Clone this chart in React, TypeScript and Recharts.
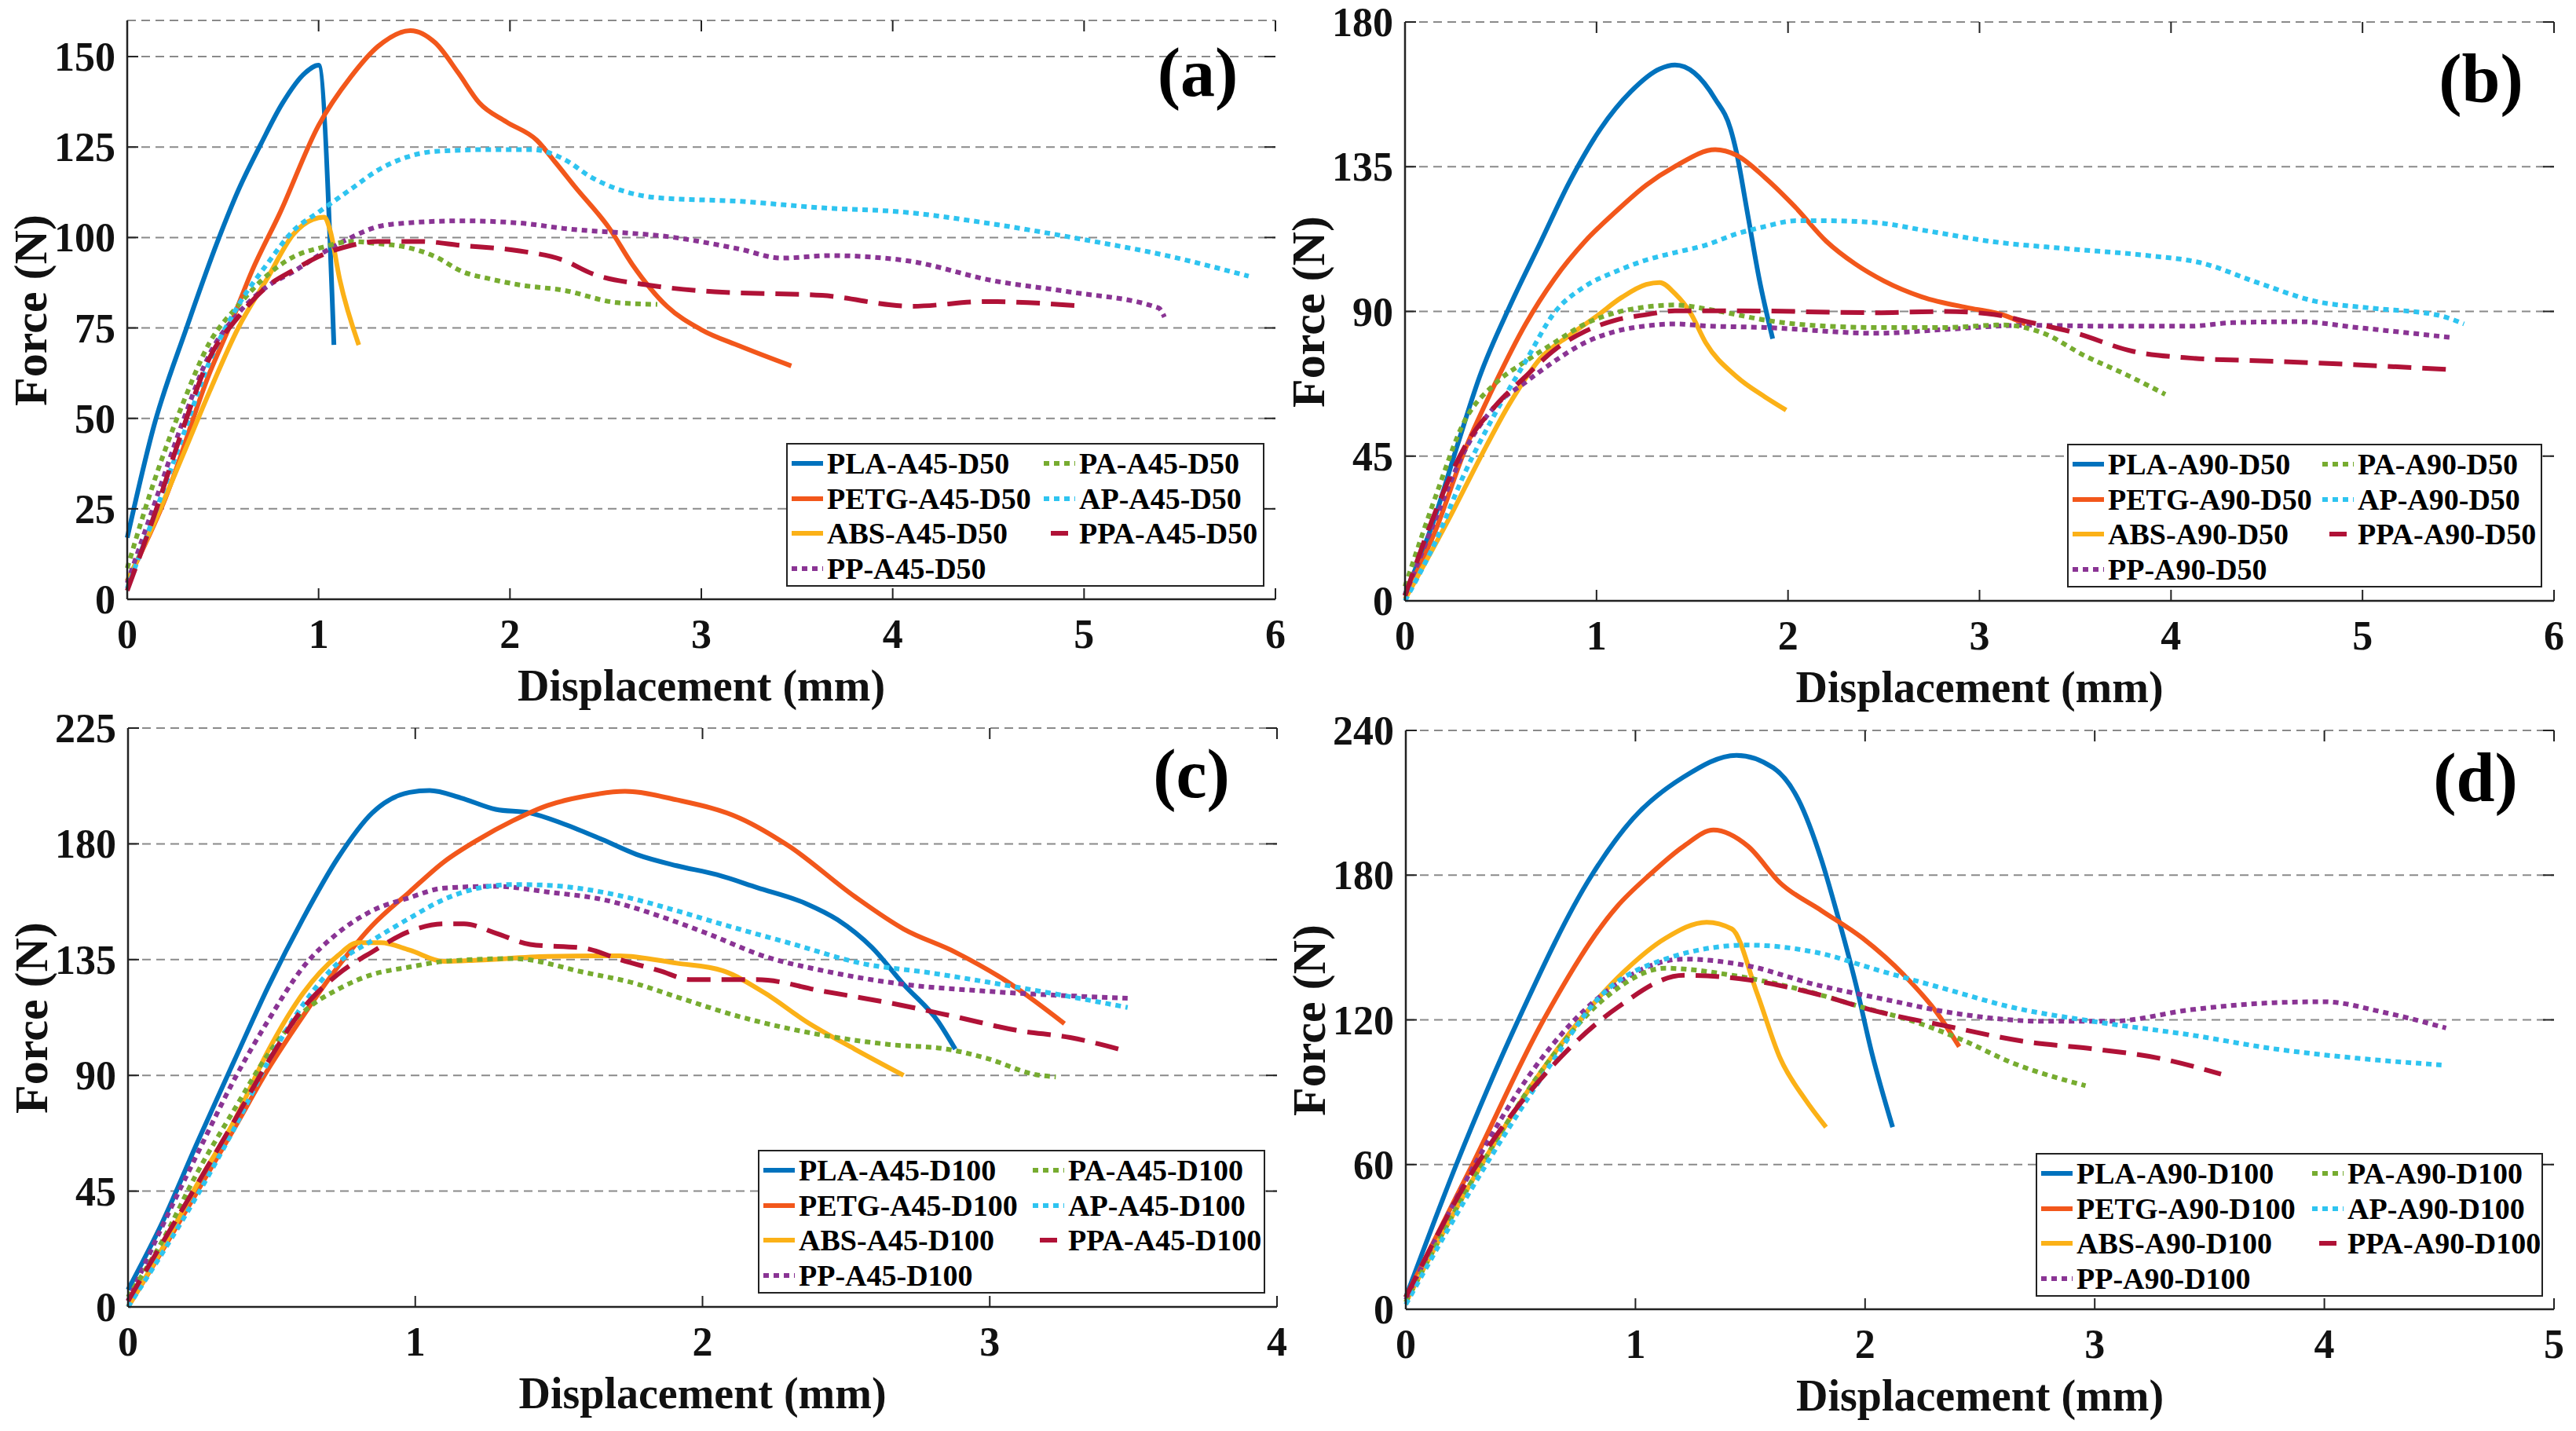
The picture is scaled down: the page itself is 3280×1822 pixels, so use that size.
import React from 'react';
import { LineChart, Line, XAxis, YAxis, CartesianGrid } from 'recharts';

type Pt = [number, number];

// ---- (a) A45-D50 ----
const A_PLA: Pt[] = [[0, 17], [0.14, 48], [0.31, 75], [0.48, 100], [0.58, 113], [0.7, 126], [0.81, 137], [0.93, 145.5], [1.0, 147.6], [1.08, 70.3]];
const A_PETG: Pt[] = [[0, 5], [0.2, 28], [0.43, 62.5], [0.54, 76], [0.65, 90.5], [0.8, 107], [1.0, 131], [1.17, 144.5], [1.31, 152.8], [1.48, 157.2], [1.61, 153.8], [1.73, 145.5], [1.84, 137.2], [1.98, 132], [2.14, 126.9], [2.24, 120.6], [2.34, 114], [2.52, 102.5], [2.64, 92.5], [2.82, 81], [3.0, 74.5], [3.2, 70], [3.47, 64.5]];
const A_ABS: Pt[] = [[0, 5], [0.14, 21], [0.29, 39.7], [0.43, 57.4], [0.58, 75], [0.73, 88.5], [0.87, 101], [0.97, 105], [1.03, 105.6], [1.06, 102], [1.11, 88.5], [1.21, 70.3]];
const A_PP: Pt[] = [[0, 4.5], [0.14, 26], [0.29, 49], [0.43, 67.7], [0.58, 79], [0.73, 86.4], [0.87, 90.6], [1.02, 95.7], [1.17, 100], [1.31, 103], [1.46, 104], [1.75, 104.6], [2.05, 104], [2.28, 102.5], [2.86, 100], [3.2, 96.8], [3.42, 94.3], [3.67, 95], [4.06, 93.7], [4.53, 88], [4.92, 85], [5.39, 80.5], [5.42, 78]];
const A_PA: Pt[] = [[0, 8.6], [0.14, 32.5], [0.29, 54], [0.43, 70.9], [0.58, 81.2], [0.73, 89.5], [0.87, 94.7], [1.02, 97.3], [1.17, 98.9], [1.31, 98.3], [1.46, 97.3], [1.61, 94.7], [1.75, 90.6], [1.9, 88.5], [2.05, 86.9], [2.28, 85.4], [2.56, 82], [2.77, 81.5]];
const A_AP: Pt[] = [[0, 3], [0.14, 23], [0.29, 45], [0.43, 65.7], [0.58, 81.2], [0.73, 92.6], [0.87, 102], [1.0, 107], [1.17, 113.4], [1.31, 118.6], [1.46, 122.2], [1.61, 123.8], [1.9, 124.3], [2.12, 124.3], [2.28, 121.7], [2.43, 116.5], [2.77, 111], [3.2, 110], [3.63, 108.2], [4.06, 107], [4.49, 104], [5.0, 99.4], [5.43, 95], [5.86, 89.3]];
const A_PPA: Pt[] = [[0, 2.4], [0.14, 23], [0.29, 47], [0.43, 66.7], [0.58, 78], [0.73, 86.4], [0.87, 91], [1.02, 95.2], [1.17, 97.8], [1.31, 98.9], [1.53, 98.9], [1.75, 97.8], [2.05, 96.3], [2.28, 93.7], [2.43, 90], [2.73, 86.8], [3.07, 85], [3.63, 84], [4.1, 81], [4.49, 82.3], [5.0, 81]];

// ---- (b) A90-D50 ----
const B_PLA: Pt[] = [[0, 2], [0.16, 26.7], [0.27, 47.7], [0.39, 69.8], [0.55, 92], [0.71, 111.8], [0.86, 130.4], [1.02, 146.7], [1.18, 158.4], [1.33, 165.4], [1.41, 166.6], [1.51, 164.2], [1.62, 156], [1.7, 146.7], [1.73, 139.7], [1.79, 120], [1.85, 100], [1.92, 81.5]];
const B_PETG: Pt[] = [[0, 1.6], [0.16, 22], [0.31, 46.5], [0.47, 67.5], [0.63, 86.1], [0.78, 100.1], [0.94, 111.8], [1.1, 121], [1.26, 129.3], [1.41, 135.1], [1.62, 140.3], [1.73, 138.6], [1.88, 131.6], [2.04, 122.3], [2.2, 111.8], [2.35, 104.8], [2.5, 99.5], [2.7, 94.5], [2.95, 91], [3.12, 89], [3.24, 86]];
const B_ABS: Pt[] = [[0, 0.5], [0.24, 26.7], [0.39, 44.2], [0.55, 61.7], [0.71, 75.6], [0.86, 82.6], [1.0, 88.5], [1.13, 94.3], [1.26, 98.4], [1.33, 99], [1.41, 95.5], [1.49, 89.6], [1.57, 80.3], [1.73, 69.8], [1.88, 63.4], [1.99, 59.3]];
const B_PP: Pt[] = [[0, 1.6], [0.16, 25.5], [0.31, 46.5], [0.47, 60.5], [0.63, 68], [0.78, 74.5], [0.94, 80.3], [1.1, 83.8], [1.26, 85.5], [1.41, 86.1], [1.57, 85.5], [1.88, 85], [2.46, 83.2], [2.82, 84.4], [3.25, 85.7], [3.68, 85.4], [4.1, 85.4], [4.32, 86.5], [4.67, 86.8], [4.97, 85], [5.46, 81.9]];
const B_PA: Pt[] = [[0, 4.5], [0.16, 32.5], [0.31, 55.8], [0.47, 67.5], [0.63, 74.5], [0.78, 80.3], [0.94, 86.1], [1.1, 89.6], [1.26, 91.4], [1.41, 92], [1.57, 90.8], [1.73, 89], [1.88, 87.3], [2.04, 86.1], [2.46, 85], [2.82, 85], [3.12, 85.8], [3.33, 83.3], [3.55, 76.2], [3.76, 70.5], [3.97, 64.2]];
const B_AP: Pt[] = [[0, 0], [0.16, 18.5], [0.31, 39.5], [0.47, 58.2], [0.63, 74.5], [0.78, 89.6], [0.94, 97.8], [1.1, 102.4], [1.26, 106], [1.41, 108.3], [1.57, 110.6], [1.73, 114.1], [1.88, 116.4], [2.04, 118.2], [2.2, 118.2], [2.46, 117.6], [2.73, 115], [3.08, 111.6], [3.46, 109.5], [3.89, 107.3], [4.15, 105.2], [4.45, 99], [4.75, 93.2], [5.05, 91], [5.39, 88.9], [5.53, 86.1]];
const B_PPA: Pt[] = [[0, 1.6], [0.16, 27.9], [0.31, 47.7], [0.47, 60.5], [0.63, 69.8], [0.78, 78], [0.94, 83.8], [1.1, 87.3], [1.26, 89], [1.41, 90.2], [1.73, 90.2], [2.46, 89.6], [2.82, 90], [3.08, 89], [3.25, 86.8], [3.5, 83.3], [3.8, 77.6], [4.1, 75.5], [4.54, 74.5], [4.97, 73.4], [5.46, 71.9]];

// ---- (c) A45-D100 ----
const C_PLA: Pt[] = [[0, 6.7], [0.12, 33], [0.24, 63.6], [0.37, 95.7], [0.49, 124.9], [0.61, 151.1], [0.73, 174.4], [0.85, 192], [0.98, 200], [1.05, 200.7], [1.16, 197.8], [1.28, 193.4], [1.4, 192], [1.52, 187.6], [1.65, 181.7], [1.77, 175.9], [1.91, 171.5], [2.05, 168], [2.19, 163], [2.36, 156.8], [2.47, 150.5], [2.59, 139.7], [2.7, 125.4], [2.82, 111], [2.88, 100.2]];
const C_PETG: Pt[] = [[0, 0], [0.12, 22], [0.24, 44.6], [0.37, 69.4], [0.49, 92.8], [0.61, 113.2], [0.73, 132.1], [0.85, 148.2], [0.98, 161.3], [1.1, 173], [1.22, 181.7], [1.34, 189], [1.46, 194.9], [1.59, 198.5], [1.73, 200.4], [1.91, 197.1], [2.13, 190], [2.3, 179.2], [2.53, 159.5], [2.7, 146.9], [2.88, 137.9], [3.05, 127.2], [3.26, 110.1]];
const C_ABS: Pt[] = [[0, 0], [0.12, 22.8], [0.24, 47.5], [0.37, 72.3], [0.49, 100], [0.61, 122], [0.73, 136.5], [0.8, 141.6], [0.88, 141.6], [0.98, 138.7], [1.1, 134.3], [1.22, 134.8], [1.46, 136.2], [1.71, 136.5], [1.91, 133.6], [2.07, 130.7], [2.22, 121.8], [2.36, 111], [2.53, 100.2], [2.7, 90]];
const C_PP: Pt[] = [[0, 2.3], [0.12, 31.5], [0.24, 59.2], [0.37, 88.4], [0.49, 111.7], [0.61, 132.1], [0.73, 145.3], [0.85, 154], [0.98, 159.1], [1.1, 162.8], [1.28, 163.5], [1.46, 161.3], [1.65, 158.4], [1.91, 149.6], [2.02, 145], [2.22, 136.1], [2.42, 130.7], [2.7, 125.4], [2.99, 122.7], [3.28, 120.9], [3.48, 120]];
const C_PA: Pt[] = [[0, 3.8], [0.12, 25.7], [0.24, 52], [0.37, 76.7], [0.49, 98.6], [0.61, 114.6], [0.73, 123.4], [0.85, 129.2], [0.98, 132.1], [1.1, 134.3], [1.34, 135.4], [1.59, 130], [1.77, 125.6], [1.91, 120.5], [2.13, 112.8], [2.42, 105.6], [2.65, 102], [2.85, 100.2], [2.99, 96.6], [3.16, 90.3], [3.23, 89.4]];
const C_AP: Pt[] = [[0, 0], [0.12, 21], [0.24, 43.2], [0.37, 69.4], [0.49, 95.7], [0.61, 117.6], [0.73, 133.6], [0.85, 142.4], [0.98, 151.1], [1.1, 158.4], [1.22, 162.8], [1.34, 164.2], [1.46, 163.9], [1.71, 159.9], [1.91, 154], [2.07, 148.7], [2.3, 141.5], [2.56, 133.4], [2.79, 129.9], [2.99, 126.3], [3.22, 121.8], [3.48, 116.4]];
const C_PPA: Pt[] = [[0, 2.3], [0.12, 25], [0.24, 47.5], [0.37, 72.3], [0.49, 95.7], [0.61, 116.1], [0.73, 129.2], [0.85, 138], [0.98, 146], [1.1, 148.9], [1.17, 148.9], [1.28, 145.3], [1.4, 140.9], [1.59, 139.4], [1.71, 135.1], [1.85, 130.7], [1.96, 127.2], [2.19, 127.2], [2.42, 122.7], [2.65, 118.2], [2.88, 112.8], [3.1, 107.4], [3.28, 104.7], [3.48, 99.3]];

// ---- (d) A90-D100 ----
const D_PLA: Pt[] = [[0, 5], [0.22, 60], [0.49, 120], [0.81, 180], [0.99, 203.5], [1.21, 220.7], [1.44, 229.7], [1.6, 224.5], [1.71, 211.2], [1.81, 186.3], [1.88, 163.4], [1.96, 134.7], [2.03, 106], [2.12, 75.5]];
const D_PETG: Pt[] = [[0, 5], [0.29, 60], [0.6, 120], [0.92, 167], [1.06, 180], [1.21, 192], [1.34, 198.7], [1.49, 192], [1.63, 176.8], [1.81, 165.3], [1.99, 153.8], [2.17, 138.5], [2.31, 123.3], [2.41, 108.9]];
const D_ABS: Pt[] = [[0, 3], [0.33, 60], [0.6, 100], [0.95, 140], [1.13, 153.8], [1.31, 160.5], [1.42, 157.7], [1.53, 130.9], [1.63, 104.1], [1.74, 86.9], [1.83, 75.5]];
const D_PP: Pt[] = [[0, 4], [0.3, 60], [0.56, 100], [0.85, 130], [1.21, 145.2], [1.49, 142.4], [1.78, 134.7], [2.06, 129], [2.42, 122.3], [2.78, 119.4], [3.07, 119.4], [3.42, 124.2], [3.78, 127.1], [4.0, 127.5], [4.25, 123.3], [4.53, 116.6]];
const D_PA: Pt[] = [[0, 3], [0.33, 60], [0.6, 100], [0.88, 130], [1.13, 141.4], [1.42, 138.5], [1.71, 132.8], [1.99, 125.2], [2.21, 119.4], [2.42, 111.8], [2.64, 102.2], [2.96, 92.7]];
const D_AP: Pt[] = [[0, 2], [0.35, 60], [0.62, 100], [0.85, 130], [1.13, 145.2], [1.49, 151], [1.78, 148.1], [2.06, 140.5], [2.35, 132.8], [2.64, 125.2], [2.99, 119.4], [3.42, 113.7], [3.78, 108], [4.14, 104.1], [4.51, 101.3]];
const D_PPA: Pt[] = [[0, 5], [0.31, 60], [0.63, 100], [0.92, 125], [1.21, 138.5], [1.49, 136.6], [1.78, 130.9], [2.06, 123.3], [2.35, 117.5], [2.71, 110.8], [2.99, 108], [3.28, 104.1], [3.55, 97.5]];

// axis ticks
const X_TICKS_6 = [0, 1, 2, 3, 4, 5, 6];
const X_TICKS_4 = [0, 1, 2, 3, 4];
const X_TICKS_5 = [0, 1, 2, 3, 4, 5];
const Y_TICKS_A = [0, 25, 50, 75, 100, 125, 150];
const Y_TICKS_B = [0, 45, 90, 135, 180];
const Y_TICKS_C = [0, 45, 90, 135, 180, 225];
const Y_TICKS_D = [0, 60, 120, 180, 240];

// materials in plotting order
const MATERIALS = ['PLA', 'PETG', 'ABS', 'PP', 'PA', 'AP', 'PPA'];
// legend rows: left column / right column
const LEGEND_ROWS = [['PLA', 'PA'], ['PETG', 'AP'], ['ABS', 'PPA'], ['PP', null]];

const COLORS: Record<string, string> = {
  PLA: '#0072BD',
  PETG: '#F2571B',
  ABS: '#FBB117',
  PP: '#8A3494',
  PA: '#77AC30',
  AP: '#2EC4F0',
  PPA: '#B01237',
};
const DASHES: Record<string, string | undefined> = {
  PLA: undefined,
  PETG: undefined,
  ABS: undefined,
  PP: '7 6',
  PA: '7 6',
  AP: '7 6',
  PPA: '30 14',
};

const FONT = '"Liberation Serif", "Times New Roman", serif';
const INK = '#222';
const TICK = 14;
// space around the plot area inside each chart
const PAD_L = 162;
const PAD_T = 50;
const PAD_R = 16;
const PAD_B = 137;

const toRows = (pts: Pt[]) => pts.map(([x, y]) => ({ x, y }));

interface PanelConfig {
  tag: string;
  suffix: string;
  plotLeft: number;
  plotTop: number;
  plotW: number;
  plotH: number;
  xMax: number;
  xTicks: number[];
  yMax: number;
  yTicks: number[];
  series: Record<string, Pt[]>;
  legend: { left: number; top: number; width: number; col1: number };
  tagPos: { cx: number; cy: number };
}

const PANELS: PanelConfig[] = [
  {
    tag: '(a)', suffix: '-A45-D50', plotLeft: 162, plotTop: 26, plotW: 1462, plotH: 737,
    xMax: 6, xTicks: X_TICKS_6, yMax: 160, yTicks: Y_TICKS_A,
    series: { PLA: A_PLA, PETG: A_PETG, ABS: A_ABS, PP: A_PP, PA: A_PA, AP: A_AP, PPA: A_PPA },
    legend: { left: 1001, top: 564, width: 609, col1: 321 },
    tagPos: { cx: 1525, cy: 105 },
  },
  {
    tag: '(b)', suffix: '-A90-D50', plotLeft: 1789, plotTop: 28, plotW: 1463, plotH: 737,
    xMax: 6, xTicks: X_TICKS_6, yMax: 180, yTicks: Y_TICKS_B,
    series: { PLA: B_PLA, PETG: B_PETG, ABS: B_ABS, PP: B_PP, PA: B_PA, AP: B_AP, PPA: B_PPA },
    legend: { left: 2632, top: 565, width: 605, col1: 318 },
    tagPos: { cx: 3159, cy: 113 },
  },
  {
    tag: '(c)', suffix: '-A45-D100', plotLeft: 163, plotTop: 927, plotW: 1463, plotH: 737,
    xMax: 4, xTicks: X_TICKS_4, yMax: 225, yTicks: Y_TICKS_C,
    series: { PLA: C_PLA, PETG: C_PETG, ABS: C_ABS, PP: C_PP, PA: C_PA, AP: C_AP, PPA: C_PPA },
    legend: { left: 965, top: 1464, width: 646, col1: 343 },
    tagPos: { cx: 1517, cy: 998 },
  },
  {
    tag: '(d)', suffix: '-A90-D100', plotLeft: 1790, plotTop: 930, plotW: 1462, plotH: 737,
    xMax: 5, xTicks: X_TICKS_5, yMax: 240, yTicks: Y_TICKS_D,
    series: { PLA: D_PLA, PETG: D_PETG, ABS: D_ABS, PP: D_PP, PA: D_PA, AP: D_AP, PPA: D_PPA },
    legend: { left: 2592, top: 1468, width: 646, col1: 345 },
    tagPos: { cx: 3152, cy: 1003 },
  },
];

// bottom tick: inward marks on bottom and top edge plus the label
const XTick = (props: any) => {
  const { x, y, payload, plotH } = props;
  return (
    <g>
      <line x1={x} x2={x} y1={y} y2={y - TICK} stroke={INK} strokeWidth={2} />
      <line x1={x} x2={x} y1={y - plotH} y2={y - plotH + TICK} stroke={INK} strokeWidth={2} />
      <text x={x} y={y + 62} textAnchor="middle" fontFamily={FONT} fontWeight="bold" fontSize={52} fill="#111">
        {payload.value}
      </text>
    </g>
  );
};

// left tick: inward marks on left and right edge plus the label
const YTick = (props: any) => {
  const { x, y, payload, plotW } = props;
  return (
    <g>
      <line x1={x} x2={x + TICK} y1={y} y2={y} stroke={INK} strokeWidth={2} />
      <line x1={x + plotW} x2={x + plotW - TICK} y1={y} y2={y} stroke={INK} strokeWidth={2} />
      <text x={x - 15} y={y + 18} textAnchor="end" fontFamily={FONT} fontWeight="bold" fontSize={52} fill="#111">
        {payload.value}
      </text>
    </g>
  );
};

const LegendSample = ({ material }: { material: string }) => {
  const dashed = material === 'PPA';
  return (
    <svg width={40} height={10} style={{ flexShrink: 0 }}>
      <line
        x1={dashed ? 9 : 0}
        x2={dashed ? 31 : 40}
        y1={5}
        y2={5}
        stroke={COLORS[material]}
        strokeWidth={6}
        strokeDasharray={dashed ? undefined : DASHES[material]}
      />
    </svg>
  );
};

const LegendItem = ({ material, suffix }: { material: string; suffix: string }) => (
  <div style={{ display: 'flex', alignItems: 'center', height: 44.5 }}>
    <LegendSample material={material} />
    <span style={{ marginLeft: 5, fontFamily: FONT, fontWeight: 'bold', fontSize: 38, lineHeight: 1, color: '#000', whiteSpace: 'nowrap' }}>
      {material + suffix}
    </span>
  </div>
);

const Panel = ({ cfg }: { cfg: PanelConfig }) => {
  const w = cfg.plotW + PAD_L + PAD_R;
  const h = cfg.plotH + PAD_T + PAD_B;
  const left = cfg.plotLeft - PAD_L;
  const top = cfg.plotTop - PAD_T;
  const axisLine = { stroke: INK, strokeWidth: 2.5 };

  return (
    <div style={{ position: 'absolute', left, top, width: w, height: h }}>
      <LineChart width={w} height={h} margin={{ top: PAD_T, right: PAD_R, left: 0, bottom: 0 }}>
        <CartesianGrid vertical={false} stroke="#8a8a8a" strokeDasharray="11 7" strokeWidth={2} />
        <XAxis
          type="number"
          dataKey="x"
          domain={[0, cfg.xMax]}
          ticks={cfg.xTicks}
          interval={0}
          height={PAD_B}
          tickSize={0}
          tickMargin={0}
          tickLine={false}
          axisLine={axisLine}
          tick={<XTick plotH={cfg.plotH} />}
        />
        <XAxis xAxisId="top" orientation="top" type="number" domain={[0, cfg.xMax]} height={0} tick={false} tickLine={false} axisLine={axisLine} />
        <YAxis
          type="number"
          domain={[0, cfg.yMax]}
          ticks={cfg.yTicks}
          interval={0}
          width={PAD_L}
          tickSize={0}
          tickMargin={0}
          tickLine={false}
          axisLine={axisLine}
          tick={<YTick plotW={cfg.plotW} />}
        />
        <YAxis yAxisId="right" orientation="right" type="number" domain={[0, cfg.yMax]} width={0} tick={false} tickLine={false} axisLine={axisLine} />
        {MATERIALS.map((m) => (
          <Line
            key={m}
            data={toRows(cfg.series[m])}
            dataKey="y"
            type="monotone"
            stroke={COLORS[m]}
            strokeWidth={6}
            strokeDasharray={DASHES[m]}
            dot={false}
            activeDot={false}
            isAnimationActive={false}
          />
        ))}
      </LineChart>

      {/* x axis title */}
      <div
        style={{
          position: 'absolute', left: PAD_L, top: PAD_T + cfg.plotH + 80, width: cfg.plotW,
          textAlign: 'center', fontFamily: FONT, fontWeight: 'bold', fontSize: 56, lineHeight: '60px', color: '#111',
        }}
      >
        Displacement (mm)
      </div>

      {/* y axis title */}
      <div
        style={{
          position: 'absolute', left: 39, top: PAD_T + cfg.plotH / 2, transform: 'translate(-50%, -50%) rotate(-90deg)',
          fontFamily: FONT, fontWeight: 'bold', fontSize: 60, lineHeight: '60px', color: '#111', whiteSpace: 'nowrap',
        }}
      >
        Force (N)
      </div>

      {/* panel tag */}
      <div
        style={{
          position: 'absolute', left: cfg.tagPos.cx - left - 100, top: cfg.tagPos.cy - top - 56, width: 200,
          textAlign: 'center', fontFamily: FONT, fontWeight: 'bold', fontSize: 88, lineHeight: '88px', color: '#000',
        }}
      >
        {cfg.tag}
      </div>

      {/* legend */}
      <div
        style={{
          position: 'absolute', left: cfg.legend.left - left, top: cfg.legend.top - top,
          width: cfg.legend.width, height: 183, boxSizing: 'border-box', border: `2px solid ${INK}`,
          background: '#fff', padding: '2px 0 0 5px',
          display: 'grid', gridTemplateColumns: `${cfg.legend.col1}px auto`,
        }}
      >
        {LEGEND_ROWS.flatMap(([l, r], i) => [
          <LegendItem key={`l${i}`} material={l as string} suffix={cfg.suffix} />,
          r ? <LegendItem key={`r${i}`} material={r} suffix={cfg.suffix} /> : <div key={`r${i}`} />,
        ])}
      </div>
    </div>
  );
};

export default function App() {
  return (
    <div style={{ position: 'absolute', left: 0, top: 0, width: 3280, height: 1822, background: '#fff', overflow: 'hidden' }}>
      {PANELS.map((p) => (
        <Panel key={p.tag} cfg={p} />
      ))}
    </div>
  );
}
